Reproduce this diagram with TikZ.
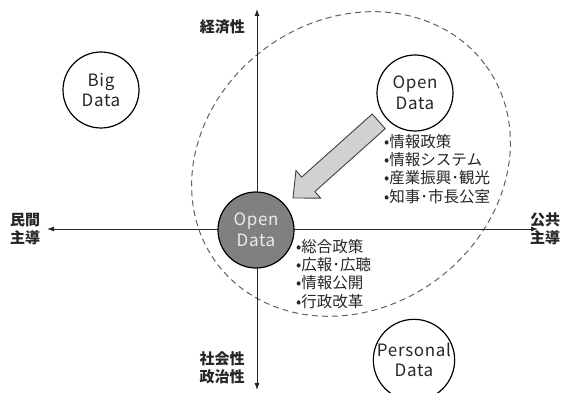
\documentclass[tikz,border=0pt]{standalone}
\usepackage{fontspec}
\setmainfont{Noto Sans CJK JP}
\newfontfamily\circfont[LetterSpace=4]{Noto Sans CJK JP}
\usetikzlibrary{arrows.meta}
\begin{document}
\begin{tikzpicture}[x=1pt,y=-1pt,
  axisline/.style={draw=black!85, line width=0.9pt, {Latex[length=7pt,width=5pt]}-{Latex[length=7pt,width=5pt]}},
  axislbl/.style={font=\fontsize{15}{17.5}\selectfont\bfseries, text=black!85, inner sep=0pt, align=center},
  circ/.style={circle, draw=black, line width=1.2pt, minimum size=76pt, inner sep=0pt, align=center,
    font=\circfont\fontsize{17}{20.5}\selectfont, text=black!85},
  listtxt/.style={font=\fontsize{15.5}{18.3}\selectfont, text=black!85, inner sep=0pt, align=left, anchor=north west},
  bigarrow/.style={fill=black!18, draw=black!75, line width=0.9pt, line join=miter},
  scopering/.style={draw=black!62, line width=1pt, dash pattern=on 6pt off 4pt}
]
\useasboundingbox (0,0) rectangle (574,393);
% dashed ring (tilted ellipse)
\draw[scopering] plot[domain=0:360, samples=120, variable=\t]
  ({351+167*cos(\t)*cos(36)+144*sin(\t)*sin(36)}, {164-167*cos(\t)*sin(36)+144*sin(\t)*cos(36)}) -- cycle;
% axes
\coordinate (ytop) at (257,9);
\coordinate (ybot) at (257,390);
\coordinate (xleft) at (47,229);
\coordinate (xright) at (538,229);
\draw[axisline] (ybot) -- (ytop);
\draw[axisline] (xleft) -- (xright);
% axis labels
\node[axislbl, anchor=east] (econ) at (245,27) {経済性};
\node[axislbl] (private) at (25,229) {民間\\主導};
\node[axislbl] (public) at (545,229) {公共\\主導};
\node[axislbl] (social) at (222,368) {社会性\\政治性};
% circles
\node[circ] (big) at (101,90) {Big\\Data};
\node[circ] (opentop) at (415,93) {Open\\Data};
\node[circ, fill=black!50, text=black!8] (opencenter) at (256,230) {Open\\Data};
\node[circ] (personal) at (414,360) {Personal\\Data};
% big arrow
\begin{scope}[shift={(293,198)}, rotate=41.8]
\draw[bigarrow] (0,0) -- (20.5,18.5) -- (20.5,9.8) -- (115,9.8) -- (115,-9.8) -- (20.5,-9.8) -- (20.5,-18.5) -- cycle;
\end{scope}
% lists
\node[listtxt] (upperlist) at (384,134) {•情報政策\\•情報システム\\•産業振興･観光\\•知事･市長公室};
\node[listtxt] (lowerlist) at (296,239) {•総合政策\\•広報･広聴\\•情報公開\\•行政改革};
\end{tikzpicture}
\end{document}
